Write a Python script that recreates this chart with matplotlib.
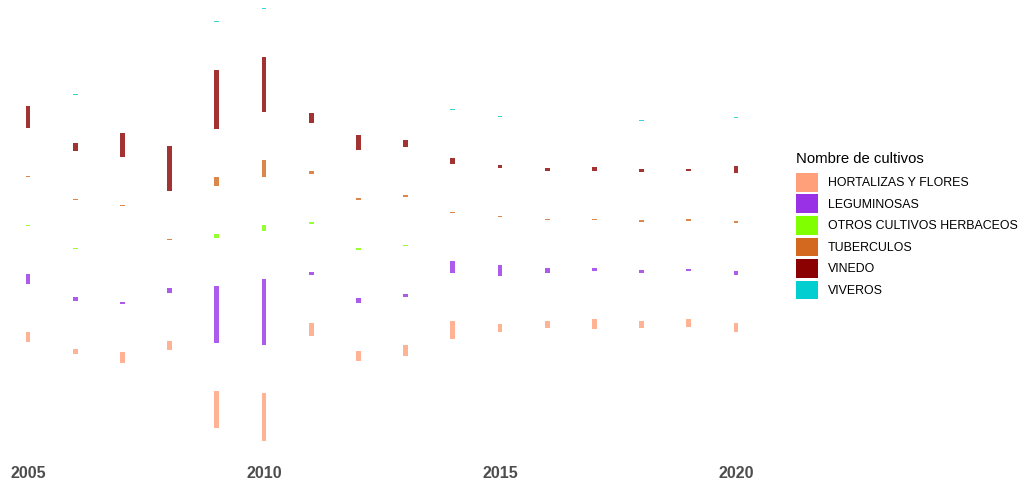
import numpy as np
import matplotlib
matplotlib.use("Agg")
import matplotlib.pyplot as plt
from matplotlib.patches import Patch

plt.rcParams["font.family"] = ["Liberation Sans", "DejaVu Sans"]

# data, nan = category not present that year
years = list(range(2005, 2021))
categorias = ["HORTALIZAS Y FLORES", "LEGUMINOSAS", "OTROS CULTIVOS HERBACEOS",
              "TUBERCULOS", "VINEDO", "VIVEROS"]
nan = np.nan
hortalizas = [10, 5, 11, 9, 37, 48, 13, 10, 11, 18, 8, 7, 10, 7, 8, 9]
leguminosas = [10, 4, 2, 5, 57, 66, 3, 5, 3, 12, 11, 4.5, 3, 3.5, 2, 4]
otros = [1, 1, 0.8, nan, 4, 6, 2, 2, 1, nan, nan, nan, nan, nan, nan, nan]
tuberculos = [1, 1, 0.8, 1.5, 9, 17, 3, 1.5, 2, 1.5, 1.5, 1.3, 1.5, 2, 2.5, 2]
vinedo = [22, 8, 24, 45, 59, 55, 10, 15, 7, 5.5, 3, 3, 3.5, 3, 1.7, 7]
viveros = [nan, 1, 0, 0, 1, 1, nan, 0, 0, 1, 1, 0, 0, 1, 0, 1]
colores = ["#FFA07A", "#9932E6", "#7FFF00", "#D2691E", "#8B0000", "#00CED1"]
gap = 48

series = np.array([hortalizas, leguminosas, otros, tuberculos, vinedo, viveros], dtype=float)

# stack the present categories with a fixed gap, centred around zero
bottoms = np.full(series.shape, nan)
for j in range(len(years)):
    pos = 0.0
    present = [i for i in range(len(categorias)) if not np.isnan(series[i, j])]
    for k, i in enumerate(present):
        bottoms[i, j] = pos
        pos += series[i, j] + (gap if k < len(present) - 1 else 0)
    bottoms[:, j] -= pos / 2

fig = plt.figure(figsize=(10.24, 4.84), dpi=100)
ax = fig.add_axes([0, 32 / 484, 760 / 1024, 452 / 484])

for i, cat in enumerate(categorias):
    ok = ~np.isnan(series[i])
    ax.bar(np.array(years)[ok], series[i][ok], bottom=bottoms[i][ok], width=0.1,
           color=colores[i], alpha=0.8, linewidth=0)

ax.set_xlim(2005 - 28 / 47.2, 2005 + (760 - 28) / 47.2)
ax.set_ylim(-228, 224)
ax.set_xticks([2005, 2010, 2015, 2020])
ax.tick_params(axis="x", length=0, pad=10, labelsize=11.5, labelcolor="#4D4D4D")
for lab in ax.get_xticklabels():
    lab.set_fontweight("bold")
ax.set_yticks([])
for s in ax.spines.values():
    s.set_visible(False)

handles = [Patch(facecolor=c, edgecolor="none") for c in colores]
leg = fig.legend(handles, categorias, title="Nombre de cultivos",
                 loc="upper left", bbox_to_anchor=(796 / 1024, 1 - 152 / 484),
                 frameon=False, fontsize=8.9, title_fontsize=10.7,
                 handlelength=1.77, handleheight=1.95, labelspacing=0.23,
                 handletextpad=0.8, alignment="left", borderaxespad=0,
                 borderpad=0)
leg._legend_box.sep = 5

fig.savefig("out.png", dpi=100)
